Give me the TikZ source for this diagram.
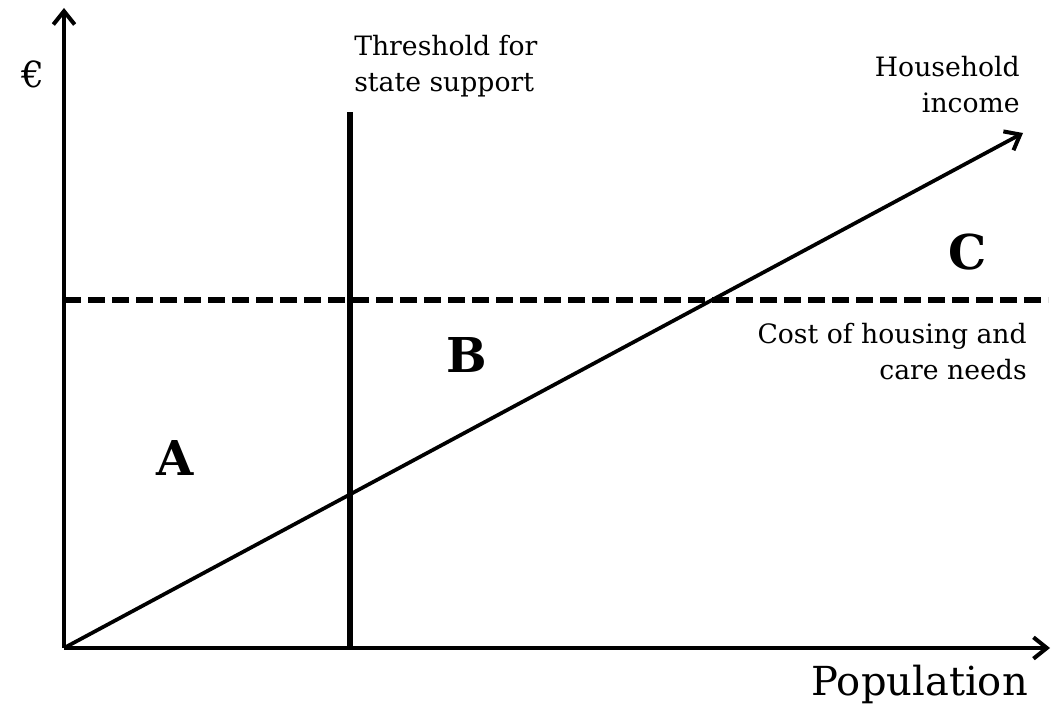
\documentclass[tikz,border=0pt]{standalone}
\usepackage{fontspec}
\setmainfont{DejaVu Serif}
\usetikzlibrary{arrows.meta,positioning}

\begin{document}
\begin{tikzpicture}[
    x=0.75pt, y=-0.75pt,
    >={Straight Barb[length=10pt,width=16pt,line width=3pt]},
    axis/.style={line width=3.2pt, ->},
    label/.style={font=\fontsize{20}{27}\selectfont, inner sep=0pt},
    region/.style={font=\fontsize{36}{40}\selectfont\bfseries, inner sep=0pt},
  ]
  \useasboundingbox (0,0) rectangle (1058,710);

  % Points
  \coordinate (origin) at (64,648);
  \coordinate (ytip) at (64,8);
  \coordinate (xtip) at (1050,648);
  \coordinate (inctip) at (1023,133);
  \coordinate (thrtop) at (350,112);
  \coordinate (thrbot) at (350,648);
  \coordinate (costleft) at (64,300);
  \coordinate (costright) at (1048,300);

  % Axes
  \draw[axis] (origin) -- (ytip);
  \draw[axis] (origin) -- (xtip);

  % Threshold and cost lines
  \draw[line width=3.8pt] (thrbot) -- (thrtop);
  \draw[line width=3.8pt, dash pattern=on 12.5pt off 5.5pt] (costleft) -- (costright);

  % Household income
  \draw[line width=2.8pt, ->] (origin) -- (inctip);

  % Labels
  \node[label, font=\fontsize{27}{30}\selectfont] (euro) at (33,74) {€};
  \node[label, anchor=base west, align=left] (thrlabel) at (354,92)
    {Threshold for\\state support};
  \node[label, anchor=base east, align=right] (inclabel) at (1020,113)
    {Household\\income};
  \node[label, anchor=base east, align=right] (costlabel) at (1027,379)
    {Cost of housing and\\care needs};
  \node[label, font=\fontsize{30}{34}\selectfont, anchor=base east] (poplabel) at (1028,695)
    {Population};

  % Regions
  \node[region] (A) at (175,458) {A};
  \node[region] (B) at (467,355) {B};
  \node[region] (C) at (968,252) {C};
\end{tikzpicture}
\end{document}
